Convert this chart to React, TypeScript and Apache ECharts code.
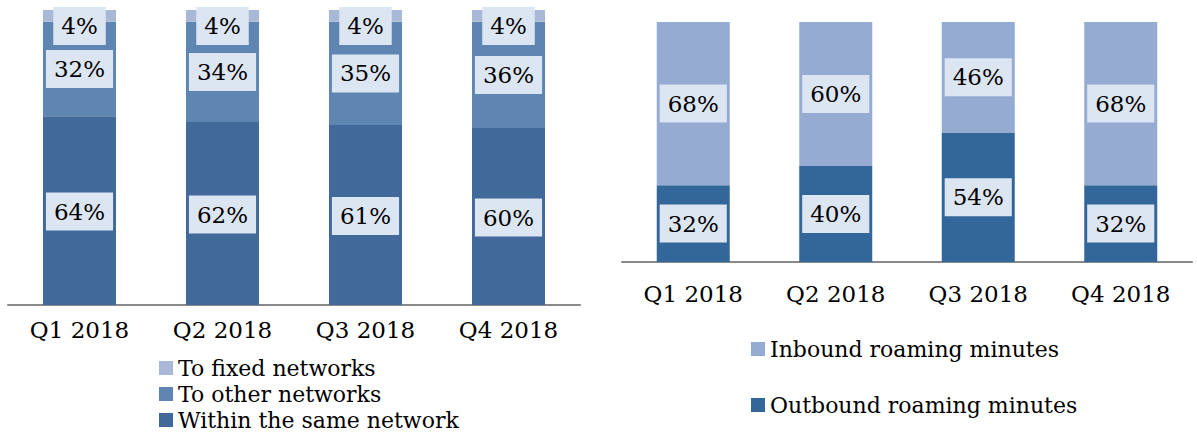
import React, { useEffect, useRef } from "react";
import * as echarts from "echarts";

const quarters = ["Q1 2018", "Q2 2018", "Q3 2018", "Q4 2018"];
const withinSame = [64, 62, 61, 60];
const toOther = [32, 34, 35, 36];
const toFixed = [4, 4, 4, 4];
const outbound = [32, 40, 54, 32];
const inbound = [68, 60, 46, 68];

const FONT = "DejaVu Serif";

const boxLabel = (offsetY = 0) => ({
  show: true,
  position: "inside" as const,
  formatter: "{c}%",
  color: "#000",
  fontFamily: FONT,
  fontSize: 23,
  backgroundColor: "#dce6f2",
  padding: [8, 8, 7, 8],
  offset: [0, offsetY],
});

export default function App() {
  const ref = useRef<HTMLDivElement>(null);
  useEffect(() => {
    document.body.style.margin = "0";
    const chart = echarts.init(ref.current!, null, { renderer: "svg" });
    const axisLine = { show: true, lineStyle: { color: "#898989", width: 2 } };
    const legendText = { color: "#000", fontFamily: FONT, fontSize: 22, lineHeight: 26 };
    chart.setOption({
      animation: false,
      backgroundColor: "#fff",
      textStyle: { fontFamily: FONT },
      grid: [
        { left: 8, top: 10, width: 572, height: 295 },
        { left: 622, top: 22, width: 570, height: 240 },
      ],
      xAxis: [
        {
          type: "category", gridIndex: 0, data: quarters,
          axisLine, axisTick: { show: false },
          axisLabel: { color: "#000", fontFamily: FONT, fontSize: 23, margin: 13 },
        },
        {
          type: "category", gridIndex: 1, data: quarters,
          axisLine, axisTick: { show: false },
          axisLabel: { color: "#000", fontFamily: FONT, fontSize: 23, margin: 20 },
        },
      ],
      yAxis: [
        { type: "value", gridIndex: 0, min: 0, max: 100, show: false },
        { type: "value", gridIndex: 1, min: 0, max: 100, show: false },
      ],
      legend: [
        {
          orient: "vertical", left: 159, top: 355, itemGap: 0, padding: 0,
          itemWidth: 14, itemHeight: 14, icon: "rect", height: 80,
          textStyle: legendText,
          data: ["To fixed networks", "To other networks", "Within the same network"],
        },
        {
          orient: "vertical", left: 751, top: 336, itemGap: 30, padding: 0,
          itemWidth: 14, itemHeight: 14, icon: "rect",
          textStyle: legendText,
          data: ["Inbound roaming minutes", "Outbound roaming minutes"],
        },
      ],
      series: [
        {
          name: "Within the same network", type: "bar", stack: "a",
          xAxisIndex: 0, yAxisIndex: 0, barWidth: 73, data: withinSame,
          itemStyle: { color: "#41699a" }, label: boxLabel(1),
        },
        {
          name: "To other networks", type: "bar", stack: "a",
          xAxisIndex: 0, yAxisIndex: 0, barWidth: 73, data: toOther,
          itemStyle: { color: "#5f86b3" }, label: boxLabel(),
        },
        {
          name: "To fixed networks", type: "bar", stack: "a",
          xAxisIndex: 0, yAxisIndex: 0, barWidth: 73, data: toFixed,
          itemStyle: { color: "#a9b8d7" }, label: boxLabel(10),
        },
        {
          name: "Outbound roaming minutes", type: "bar", stack: "b",
          xAxisIndex: 1, yAxisIndex: 1, barWidth: 73, data: outbound,
          itemStyle: { color: "#336699" }, label: boxLabel(),
        },
        {
          name: "Inbound roaming minutes", type: "bar", stack: "b",
          xAxisIndex: 1, yAxisIndex: 1, barWidth: 73, data: inbound,
          itemStyle: { color: "#95abd1" }, label: boxLabel(),
        },
      ],
    });
    return () => chart.dispose();
  }, []);
  return <div ref={ref} style={{ width: 1197, height: 433 }} />;
}
